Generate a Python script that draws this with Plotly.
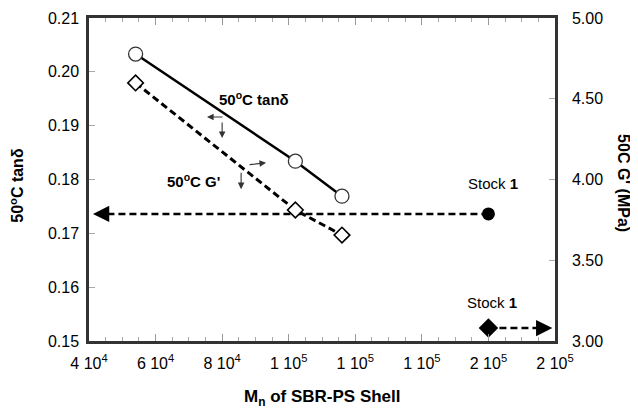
import plotly.graph_objects as go

# ---- data ----
mn_shell = [54000, 102000, 116000]          # Mn of SBR-PS shell
tan_delta_50c = [0.2033, 0.1834, 0.1769]   # 50 C tan delta (left axis)
g_prime_50c = [4.598, 3.811, 3.656]        # 50 C G' (MPa) (right axis)

stock_mn = [160000]
stock_tan_delta = [0.1736]
stock_g_prime = [3.08]

x_tick_vals = [40000, 60000, 80000, 100000, 120000, 140000, 160000, 180000]
x_tick_text = ["4 10<sup>4</sup>", "6 10<sup>4</sup>", "8 10<sup>4</sup>", "1 10<sup>5</sup>",
               "1 10<sup>5</sup>", "1 10<sup>5</sup>", "2 10<sup>5</sup>", "2 10<sup>5</sup>"]

X_RANGE = [40000, 180000]
Y_RANGE = [0.15, 0.21]
Y2_RANGE = [3.0, 5.0]
LEFT_ARROW_TIP = 41200
RIGHT_ARROW_TIP = 179200

FONT = "Liberation Sans, Arial, sans-serif"
AXC = "#333333"
DASH = "7px,4px"

fig = go.Figure()

# G' series (dashed, open diamonds)
fig.add_trace(go.Scatter(
    x=mn_shell, y=g_prime_50c, mode="lines+markers",
    line=dict(color="black", width=3, dash=DASH),
    marker=dict(symbol="diamond", size=12, color="white", line=dict(width=1.6, color="black")),
    yaxis="y2", showlegend=False, cliponaxis=False))

# tan delta series (solid, open circles)
fig.add_trace(go.Scatter(
    x=mn_shell, y=tan_delta_50c, mode="lines+markers",
    line=dict(color="black", width=2.5),
    marker=dict(symbol="circle", size=14, color="white", line=dict(width=1.3, color="#333333")),
    yaxis="y", showlegend=False, cliponaxis=False))

# Stock 1 tan delta: dashed line to left axis
fig.add_trace(go.Scatter(
    x=[stock_mn[0], LEFT_ARROW_TIP + 3000], y=[stock_tan_delta[0]] * 2, mode="lines",
    line=dict(color="black", width=2.5, dash=DASH), yaxis="y", showlegend=False))
fig.add_trace(go.Scatter(
    x=stock_mn, y=stock_tan_delta, mode="markers",
    marker=dict(symbol="circle", size=13, color="black"),
    yaxis="y", showlegend=False, cliponaxis=False))

# Stock 1 G': dashed line to right axis
fig.add_trace(go.Scatter(
    x=[stock_mn[0], RIGHT_ARROW_TIP - 3000], y=[stock_g_prime[0]] * 2, mode="lines",
    line=dict(color="black", width=2.5, dash=DASH), yaxis="y2", showlegend=False))
fig.add_trace(go.Scatter(
    x=stock_mn, y=stock_g_prime, mode="markers",
    marker=dict(symbol="diamond", size=15, color="black"),
    yaxis="y2", showlegend=False, cliponaxis=False))

annotations = []
# arrowheads for stock lines
annotations.append(dict(x=LEFT_ARROW_TIP, y=stock_tan_delta[0], xref="x", yref="y",
                        ax=14, ay=0, text="", showarrow=True, arrowhead=2,
                        arrowsize=1.3, arrowwidth=2.5, arrowcolor="black"))
annotations.append(dict(x=RIGHT_ARROW_TIP, y=stock_g_prime[0], xref="x", yref="y2",
                        ax=-14, ay=0, text="", showarrow=True, arrowhead=2,
                        arrowsize=1.3, arrowwidth=2.5, arrowcolor="black"))

# small thin pointer arrows
for (x, y, ax, ay) in [(75450, 0.1916, 17, 0), (80000, 0.1877, 0, -17),
                       (93200, 0.1831, -18, 2), (85700, 0.1782, 0, -18)]:
    annotations.append(dict(x=x, y=y, xref="x", yref="y", ax=ax, ay=ay, text="",
                            showarrow=True, arrowhead=2, arrowsize=1.2,
                            arrowwidth=1.1, arrowcolor="#333333"))

# text labels
annotations.append(dict(x=89600, y=0.1951, xref="x", yref="y", showarrow=False,
                        text="<b>50<sup>o</sup>C tanδ</b>",
                        font=dict(family=FONT, size=15, color="black")))
annotations.append(dict(x=71500, y=0.1799, xref="x", yref="y", showarrow=False,
                        text="<b>50<sup>o</sup>C G'</b>",
                        font=dict(family=FONT, size=15, color="black")))
annotations.append(dict(x=161400, y=0.1792, xref="x", yref="y", showarrow=False,
                        text="Stock <b>1</b>",
                        font=dict(family=FONT, size=15, color="black")))
annotations.append(dict(x=161000, y=0.1571, xref="x", yref="y", showarrow=False,
                        text="Stock <b>1</b>",
                        font=dict(family=FONT, size=15, color="black")))

# axis titles
annotations.append(dict(x=-0.155, y=0.483, xref="paper", yref="paper", showarrow=False,
                        xanchor="center", yanchor="middle",
                        textangle=-90, text="<b>50<sup>o</sup>C tanδ</b>",
                        font=dict(family=FONT, size=16, color="black")))
annotations.append(dict(x=1.148, y=0.489, xref="paper", yref="paper", showarrow=False,
                        xanchor="center", yanchor="middle",
                        textangle=90, text="<b>50C G' (MPa)</b>",
                        font=dict(family=FONT, size=16, color="black")))
annotations.append(dict(x=0.5, y=-0.135, xref="paper", yref="paper", showarrow=False,
                        yanchor="top", text="<b>M<sub>n</sub> of SBR-PS Shell</b>",
                        font=dict(family=FONT, size=17, color="black")))

# page body has an 8px default margin, so the figure is sized to fit the window
fig.update_layout(
    width=630, height=403,
    margin=dict(l=81, r=83, t=10, b=70, autoexpand=False),
    paper_bgcolor="white", plot_bgcolor="white",
    font=dict(family=FONT, size=16, color="black"),
    annotations=annotations,
    xaxis=dict(range=X_RANGE, tickvals=x_tick_vals, ticktext=x_tick_text,
               automargin=False,
               showgrid=False, zeroline=False, showline=True, linecolor=AXC,
               linewidth=2.5, mirror="ticks", ticks="inside", ticklen=7,
               tickcolor="#999999", tickwidth=1, ticklabelstandoff=6,
               minor=dict(dtick=5000, tick0=40000, ticks="inside", ticklen=4,
                          tickcolor="#aaaaaa", tickwidth=1, showgrid=False),
               tickfont=dict(family=FONT, size=16, color="black")),
    yaxis=dict(range=Y_RANGE, dtick=0.01, tick0=0.15, tickformat=".2f",
               automargin=False,
               showgrid=False, zeroline=False, showline=True, linecolor=AXC,
               linewidth=2.5, ticks="inside", ticklen=6, tickcolor="#aaaaaa",
               tickwidth=1, ticklabelstandoff=4,
               tickfont=dict(family=FONT, size=16, color="black")),
    yaxis2=dict(range=Y2_RANGE, dtick=0.5, tick0=3.0, tickformat=".2f",
                automargin=False,
                overlaying="y", side="right", showgrid=False, zeroline=False,
                showline=True, linecolor=AXC, linewidth=2.5, ticks="inside",
                ticklen=6, tickcolor="#aaaaaa", tickwidth=1, ticklabelstandoff=11,
                tickfont=dict(family=FONT, size=16, color="black")),
)

fig.write_html("out.html")
